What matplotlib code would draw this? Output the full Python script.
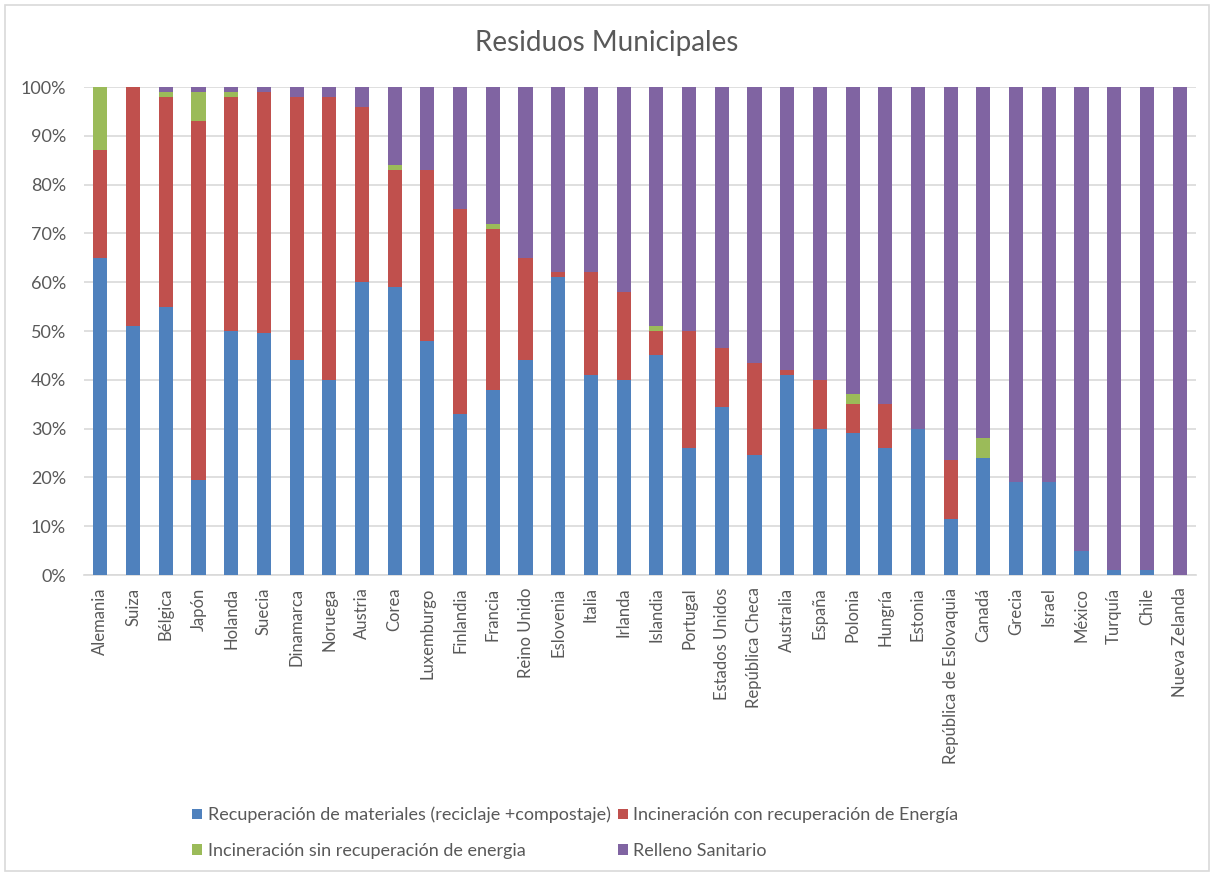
import matplotlib.pyplot as plt
import numpy as np
from matplotlib.patches import Rectangle
from matplotlib.ticker import PercentFormatter

plt.rcParams['font.family'] = ['Lato', 'DejaVu Sans']

# Paises y porcentaje de cada destino de los residuos municipales
paises = ['Alemania', 'Suiza', 'Bélgica', 'Japón', 'Holanda', 'Suecia', 'Dinamarca',
          'Noruega', 'Austria', 'Corea', 'Luxemburgo', 'Finlandia', 'Francia',
          'Reino Unido', 'Eslovenia', 'Italia', 'Irlanda', 'Islandia', 'Portugal',
          'Estados Unidos', 'República Checa', 'Australia', 'España', 'Polonia',
          'Hungría', 'Estonia', 'República de Eslovaquia', 'Canadá', 'Grecia',
          'Israel', 'México', 'Turquía', 'Chile', 'Nueva Zelanda']

reciclaje = [65, 51, 55, 19.5, 50, 49.5, 44, 40, 60, 59, 48, 33, 38, 44, 61, 41, 40,
             45, 26, 34.5, 24.5, 41, 30, 29, 26, 30, 11.5, 24, 19, 19, 5, 1, 1, 0]
incin_con = [22, 49, 43, 73.5, 48, 49.5, 54, 58, 36, 24, 35, 42, 33, 21, 1, 21, 18,
             5, 24, 12, 19, 1, 10, 6, 9, 0, 12, 0, 0, 0, 0, 0, 0, 0]
incin_sin = [13, 0, 1, 6, 1, 0, 0, 0, 0, 1, 0, 0, 1, 0, 0, 0, 0,
             1, 0, 0, 0, 0, 0, 2, 0, 0, 0, 4, 0, 0, 0, 0, 0, 0]
relleno = [0, 0, 1, 1, 1, 1, 2, 2, 4, 16, 17, 25, 28, 35, 38, 38, 42,
           49, 50, 53.5, 56.5, 58, 60, 63, 65, 70, 76.5, 72, 81, 81, 95, 99, 99, 100]

series = [
    ('Recuperación de materiales (reciclaje +compostaje)', reciclaje, '#4F81BD'),
    ('Incineración con recuperación de Energía', incin_con, '#C0504D'),
    ('Incineración sin recuperación de energia', incin_sin, '#9BBB59'),
    ('Relleno Sanitario', relleno, '#8064A2'),
]

gris = '#595959'

fig = plt.figure(figsize=(12.14, 8.76), dpi=100)
ax = fig.add_axes([84 / 1214, 1 - 575 / 876, 1112 / 1214, 488 / 876])

x = np.arange(len(paises))
base = np.zeros(len(paises))
barras = []
for nombre, valores, color in series:
    valores = np.array(valores, dtype=float)
    barras.append(ax.bar(x, valores, 0.43, bottom=base, color=color, label=nombre, zorder=3))
    base += valores

ax.set_xlim(-0.5, len(paises) - 0.5)
ax.set_ylim(0, 100)
ax.set_yticks(np.arange(0, 101, 10))
ax.yaxis.set_major_formatter(PercentFormatter(decimals=0))
ax.set_xticks(x)
ax.set_xticklabels(paises, rotation=90)
ax.tick_params(axis='y', length=0, pad=13, labelsize=13, labelcolor=gris)
ax.tick_params(axis='x', length=0, pad=9, labelsize=12, labelcolor=gris)
ax.grid(axis='y', color='#d9d9d9', linewidth=1.2, zorder=0)
for lado in ['top', 'right', 'left']:
    ax.spines[lado].set_visible(False)
ax.spines['bottom'].set_color('#d9d9d9')
ax.spines['bottom'].set_linewidth(1.2)

fig.text(0.5, 1 - 43 / 876, 'Residuos Municipales', ha='center', va='center',
         fontsize=20, color=gris)

# la leyenda se llena por columnas: reordenar para que quede por filas
orden = [0, 2, 1, 3]
fig.legend([barras[i] for i in orden], [series[i][0] for i in orden],
           loc='center', bbox_to_anchor=(0.474, 0.049), ncol=2, frameon=False,
           fontsize=13, labelcolor=gris, handlelength=0.55, handleheight=0.55,
           handletextpad=0.3, columnspacing=0.4, labelspacing=1.1)

# marco del area del grafico
fig.patches.append(Rectangle((5 / 1214, 5 / 876), 1204 / 1214, 866 / 876,
                             transform=fig.transFigure, fill=False,
                             edgecolor='#d9d9d9', linewidth=1.2))

fig.savefig('out.png', dpi=100)
